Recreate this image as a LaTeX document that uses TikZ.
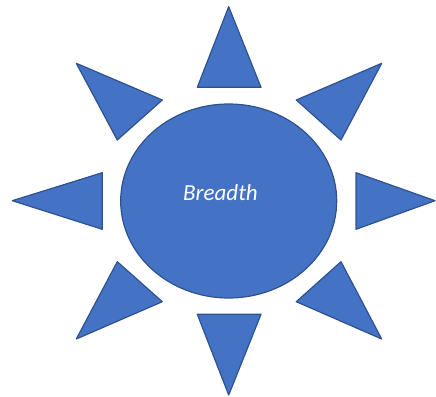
\documentclass[tikz,border=0pt]{standalone}
\usepackage{fontspec}
\setmainfont{Carlito}
\definecolor{sunfill}{HTML}{4472C4}
\definecolor{sunline}{HTML}{2F528F}
\begin{document}
\begin{tikzpicture}[x=1pt, y=-1pt, line join=round, line cap=round, font=\fontsize{23}{26}\selectfont\itshape]
	\tikzset{ray/.style={fill=sunfill, draw=sunline, line width=1.2pt}}
	\useasboundingbox (0,0) rectangle (436,396);
	\draw [ray] (228.7,201) ellipse [x radius=108, y radius=97];
	\draw [ray] (228.7,6.7)--(261,87.3)--(197.3,87.3)--cycle
		(228.7,395)--(261,314.3)--(197.3,314.3)--cycle
		(12.3,200.7)--(102.3,172.7)--(102.3,229.3)--cycle
		(435,200.7)--(356,172.7)--(356,229.3)--cycle
		(76.3,63.3)--(162.3,100)--(117.3,140)--cycle
		(381.7,63.3)--(296.3,100)--(341,140)--cycle
		(76.3,339)--(162.3,301.7)--(117.3,261.7)--cycle
		(381.7,339)--(296.3,301.7)--(341,261.7)--cycle
		;
	\node [text=white] (label) at (220.5,193) {Breadth};
\end{tikzpicture}
\end{document}
